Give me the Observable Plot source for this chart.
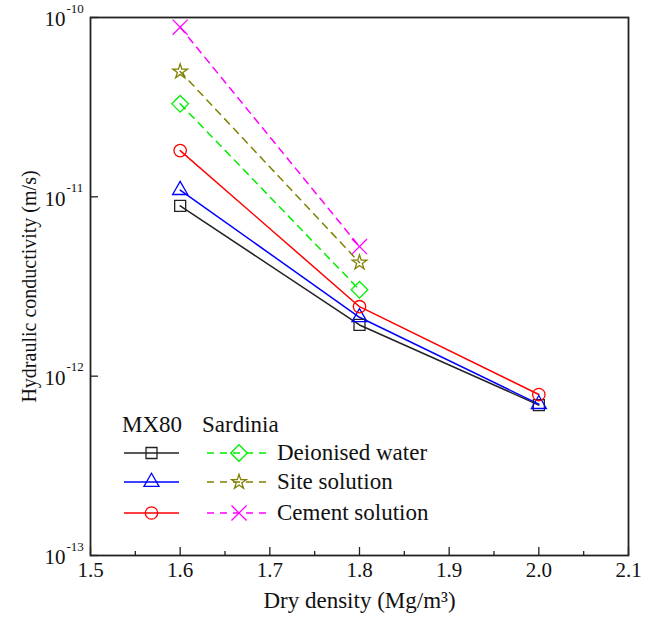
<!DOCTYPE html>
<html>
<head>
<meta charset="utf-8">
<script src="https://cdn.jsdelivr.net/npm/d3@7"></script>
<script src="https://cdn.jsdelivr.net/npm/@observablehq/plot@0.6"></script>
<style>
  html, body { margin: 0; padding: 0; background: #fff; }
  svg { font-family: "Liberation Serif", "Times New Roman", serif; }
</style>
</head>
<body>
<div id="chart"></div>
<script>
// ---- data ----
const densityMX = [1.6, 1.8, 2.0];
const mxDeionised = [8.9e-12, 1.93e-12, 6.9e-13];
const mxSite = [1.09e-11, 2.13e-12, 6.98e-13];
const mxCement = [1.81e-11, 2.44e-12, 7.9e-13];
const densitySar = [1.6, 1.8];
const sarDeionised = [3.3e-11, 3.03e-12];
const sarSite = [5.0e-11, 4.3e-12];
const sarCement = [8.83e-11, 5.28e-12];

const xTicks = [1.5, 1.6, 1.7, 1.8, 1.9, 2.0, 2.1];
const xMinorTicks = [1.55, 1.65, 1.75, 1.85, 1.95, 2.05];
const yTicks = [1e-13, 1e-12, 1e-11, 1e-10];
const yExponents = ["-13", "-12", "-11", "-10"];

const series = [
  {xs: densityMX, ys: mxDeionised, color: "#222222", symbol: "square", r: 6.2, dash: null},
  {xs: densityMX, ys: mxSite, color: "#0000ff", symbol: "triangle", r: 5.6, dash: null},
  {xs: densityMX, ys: mxCement, color: "#ff0000", symbol: "circle", r: 6.2, dash: null},
  {xs: densitySar, ys: sarDeionised, color: "#00ee00", symbol: "diamond2", r: 7.5, dash: "7,6"},
  {xs: densitySar, ys: sarSite, color: "#808000", symbol: "star", r: 4.6, dash: "7,6"},
  {xs: densitySar, ys: sarCement, color: "#ff00ff", symbol: "times", r: 6.9, dash: "7,6"}
];
const legendHeaders = ["MX80", "Sardinia"];
const legendLabels = ["Deionised water", "Site solution", "Cement solution"];

// ---- layout ----
const W = 645, H = 632;
const mL = 90, mR = 17, mT = 17, mB = 77;
const plotW = W - mL - mR, plotH = H - mT - mB;
const majorLen = 8, minorLen = 4;
const FONT = "Liberation Serif, Times New Roman, serif";

const toRows = s => s.xs.map((x, i) => ({x, y: s.ys[i]}));
const lineMarks = series.map(s =>
  Plot.line(toRows(s), {x: "x", y: "y", stroke: s.color, strokeWidth: 1.5, strokeDasharray: s.dash}));
const dotMarks = series.map(s =>
  Plot.dot(toRows(s), {x: "x", y: "y", symbol: s.symbol, r: s.r, stroke: s.color, strokeWidth: 1.3, fill: "none"}));

const plot = Plot.plot({
  width: W, height: H,
  marginLeft: mL, marginRight: mR, marginTop: mT, marginBottom: mB,
  x: {type: "linear", domain: [1.5, 2.1], axis: null},
  y: {type: "log", domain: [1e-13, 1e-10], axis: null},
  style: {fontFamily: FONT, background: "transparent", overflow: "visible"},
  marks: [
    ...lineMarks,
    ...dotMarks,
    // inward ticks
    Plot.ruleX(xTicks, {x: d => d, insetTop: plotH - majorLen, stroke: "#222", strokeWidth: 1.3}),
    Plot.ruleX(xMinorTicks, {x: d => d, insetTop: plotH - minorLen, stroke: "#222", strokeWidth: 1.3}),
    Plot.ruleY(yTicks, {y: d => d, insetRight: plotW - majorLen, stroke: "#222", strokeWidth: 1.3}),
    Plot.frame({stroke: "#222", strokeWidth: 1.8}),
    // x tick labels
    Plot.text(xTicks, {x: d => d, text: d => d3.format(".1f")(d), frameAnchor: "bottom", dy: 21, fontSize: 21, fill: "#111"}),
    // y tick labels (10 with exponent)
    Plot.text(yTicks, {y: d => d, text: () => "10", frameAnchor: "left", dx: -46, dy: 2, textAnchor: "start", fontSize: 21, fill: "#111"}),
    Plot.text(yTicks, {y: d => d, text: (d, i) => yExponents[i], frameAnchor: "left", dx: -24, dy: -9, textAnchor: "start", fontSize: 13, fill: "#111"}),
    // axis titles
    Plot.text(["Dry density (Mg/m³)"], {frameAnchor: "bottom", textAnchor: "middle", dy: 52, fontSize: 23, fill: "#111", text: d => d}),
    Plot.text(["Hydraulic conductivity (m/s)"], {frameAnchor: "left", textAnchor: "middle", dx: -61, rotate: -90, fontSize: 20, fill: "#111", text: d => d})
  ]
});

document.getElementById("chart").appendChild(plot);

// ---- legend ----
function symbolType(name) {
  return {
    square: d3.symbolSquare, triangle: d3.symbolTriangle, circle: d3.symbolCircle,
    diamond2: d3.symbolDiamond2, star: d3.symbolStar, times: d3.symbolTimes
  }[name];
}
const svg = d3.select(plot);
const g = svg.append("g").attr("font-family", FONT).attr("fill", "#111").attr("text-anchor", "start");
g.append("text").attr("x", 122).attr("y", 432).attr("font-size", 23).text(legendHeaders[0]);
g.append("text").attr("x", 202).attr("y", 432).attr("font-size", 23).text(legendHeaders[1]);
const rowsY = [453, 482, 513];
for (let i = 0; i < 3; i++) {
  const y = rowsY[i];
  const a = series[i], b = series[i + 3];
  g.append("line").attr("x1", 124).attr("x2", 179).attr("y1", y).attr("y2", y)
    .attr("stroke", a.color).attr("stroke-width", 1.5);
  g.append("path").attr("transform", `translate(151.5,${y})`)
    .attr("d", d3.symbol(symbolType(a.symbol), a.r * a.r * Math.PI)())
    .attr("fill", "none").attr("stroke", a.color).attr("stroke-width", 1.3);
  g.append("line").attr("x1", 207).attr("x2", 268).attr("y1", y).attr("y2", y)
    .attr("stroke", b.color).attr("stroke-width", 1.5).attr("stroke-dasharray", "7,6");
  g.append("path").attr("transform", `translate(239,${y})`)
    .attr("d", d3.symbol(symbolType(b.symbol), b.r * b.r * Math.PI)())
    .attr("fill", "none").attr("stroke", b.color).attr("stroke-width", 1.3);
  g.append("text").attr("x", 277).attr("y", y + 7).attr("font-size", 23).text(legendLabels[i]);
}
</script>
</body>
</html>
